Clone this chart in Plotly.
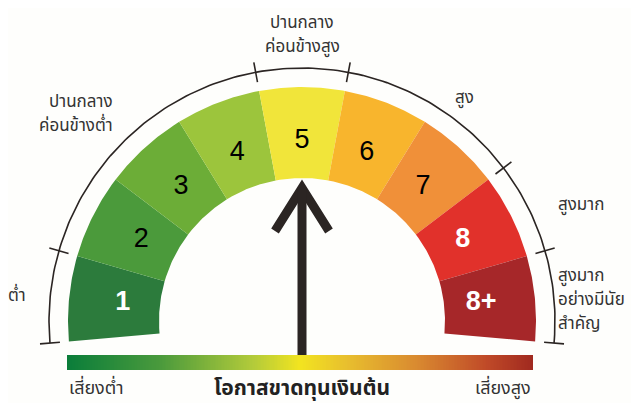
import numpy as np
import plotly.graph_objects as go

# ---------------- data ----------------
levels = ["1", "2", "3", "4", "5", "6", "7", "8", "8+"]
level_colors = ["#2c7b3c", "#4b9a3b", "#6cad37", "#9cc53c", "#f1e53a",
                "#f8b52d", "#f09039", "#e1312b", "#a62729"]
level_text_colors = ["white", "black", "black", "black", "black",
                     "black", "black", "white", "white"]
zones = ["ต่ำ", "ปานกลาง<br>ค่อนข้างต่ำ", "ปานกลาง<br>ค่อนข้างสูง", "สูง",
         "สูงมาก", "สูงมาก<br>อย่างมีนัย<br>สำคัญ"]
zone_first = [0, 1, 4, 5, 7, 8]
zone_last = [0, 3, 4, 6, 7, 8]
selected_level = "5"
scale_left = "เสี่ยงต่ำ"
scale_title = "โอกาสขาดทุนเงินต้น"
scale_right = "เสี่ยงสูง"
gradient_stops = [0.0, 0.2, 0.4, 0.5, 0.6, 0.75, 0.9, 1.0]
gradient_colors = ["#0a7d3a", "#4a9a3c", "#b3cb3a", "#f2e420",
                   "#e8bf2e", "#d98a30", "#c04a28", "#a0291f"]

# ---------------- styles ----------------
PAGE_W, PAGE_H = 639, 403
PAD = 8                    # browser body margin around the plot div
W, H = PAGE_W - PAD, PAGE_H - PAD
CX, CY = 302, 321          # gauge centre in page pixels
START, END = 185.0, -5.0
R_OUT, R_IN = 234, 143
R_ARC, TICK = 253, 10
R_NUM = 180
zone_label_ang = [175, 132, 90, 54, 24.5, 4.7]
zone_label_r = [286, 279, 286, 276, 279, 255]
zone_label_anchor = ["center", "right", "center", "center", "left", "left"]
LINE_GAP = 24
THAI = "Noto Sans Thai, Loma, Garuda, Tahoma, sans-serif"
INK = "#2b2523"
BG = "#fefefc"

n = len(levels)
step = (START - END) / n
edges = [START - i * step for i in range(n + 1)]


def pol(r, a):
    t = np.radians(a)
    return r * np.cos(t), r * np.sin(t)


fig = go.Figure()

# gauge segments
for i, lab in enumerate(levels):
    a = np.linspace(edges[i], edges[i + 1], 40)
    xo, yo = pol(R_OUT, a)
    xi, yi = pol(R_IN, a[::-1])
    fig.add_trace(go.Scatter(x=np.r_[xo, xi, xo[0]], y=np.r_[yo, yi, yo[0]],
                             fill="toself", fillcolor=level_colors[i],
                             line=dict(width=0), mode="lines",
                             hoverinfo="skip", showlegend=False))
    mid = (edges[i] + edges[i + 1]) / 2
    tx, ty = pol(R_NUM, mid)
    white = level_text_colors[i] == "white"
    fig.add_trace(go.Scatter(x=[tx], y=[ty], mode="text",
                             text=["<b>" + lab + "</b>" if white else lab],
                             textfont=dict(family="Liberation Sans, Arial", size=27,
                                           color=level_text_colors[i]),
                             hoverinfo="skip", showlegend=False))

# outer arc
a = np.linspace(START, END, 200)
ax_, ay_ = pol(R_ARC, a)
fig.add_trace(go.Scatter(x=ax_, y=ay_, mode="lines", line=dict(color=INK, width=1.6),
                         hoverinfo="skip", showlegend=False))
# ticks at zone boundaries
tick_idx = sorted(set(zone_first + [z + 1 for z in zone_last]))
tx_, ty_ = [], []
for k in tick_idx:
    x1, y1 = pol(R_ARC - TICK, edges[k])
    x2, y2 = pol(R_ARC + TICK, edges[k])
    tx_ += [x1, x2, None]
    ty_ += [y1, y2, None]
fig.add_trace(go.Scatter(x=tx_, y=ty_, mode="lines", line=dict(color=INK, width=1.6),
                         hoverinfo="skip", showlegend=False))

# zone labels (one annotation per line for controlled spacing)
for z, txt in enumerate(zones):
    lx, ly = pol(zone_label_r[z], zone_label_ang[z])
    lines = txt.split("<br>")
    m = len(lines)
    for k, line in enumerate(lines):
        fig.add_annotation(x=lx, y=ly + ((m - 1) / 2 - k) * LINE_GAP, text=line,
                           showarrow=False, xanchor=zone_label_anchor[z],
                           yanchor="middle",
                           font=dict(family=THAI, size=17, color="#333333"))

# gradient bar
BAR_X0, BAR_X1 = -235, 231
BAR_Y0, BAR_Y1 = -49, -34
xe = np.linspace(BAR_X0, BAR_X1, 301)
zc = (xe[:-1] + xe[1:]) / 2
zn = (zc - BAR_X0) / (BAR_X1 - BAR_X0)
fig.add_trace(go.Heatmap(x=xe, y=[BAR_Y0, BAR_Y1], z=[zn], zmin=0, zmax=1,
                         colorscale=[[s, c] for s, c in zip(gradient_stops, gradient_colors)],
                         showscale=False, hoverinfo="skip"))

# arrow pointing at selected level
si = levels.index(selected_level)
amid = (edges[si] + edges[si + 1]) / 2
tipx, tipy = pol(133, amid)
arrow_x = [tipx - 27, tipx, tipx + 27, None, tipx, tipx]
arrow_y = [tipy - 43, tipy, tipy - 43, None, tipy, BAR_Y1]
fig.add_trace(go.Scatter(x=arrow_x, y=arrow_y, mode="lines",
                         line=dict(color=INK, width=9), hoverinfo="skip",
                         showlegend=False))

# bottom labels
fig.add_annotation(x=BAR_X0, y=-67, text=scale_left, showarrow=False, xanchor="left",
                   font=dict(family=THAI, size=18, color="#333333"))
fig.add_annotation(x=0, y=-67, text="<b>" + scale_title + "</b>", showarrow=False,
                   xanchor="center", font=dict(family=THAI, size=21, color="#222222"))
fig.add_annotation(x=BAR_X1, y=-67, text=scale_right, showarrow=False, xanchor="right",
                   font=dict(family=THAI, size=18, color="#333333"))

fig.update_layout(
    width=W, height=H, margin=dict(l=0, r=0, t=0, b=0),
    paper_bgcolor=BG, plot_bgcolor=BG, showlegend=False,
    xaxis=dict(range=[PAD - CX, PAGE_W - CX], visible=False, fixedrange=True),
    yaxis=dict(range=[CY - PAGE_H, CY - PAD], visible=False, fixedrange=True),
)
fig.write_html("out.html")
